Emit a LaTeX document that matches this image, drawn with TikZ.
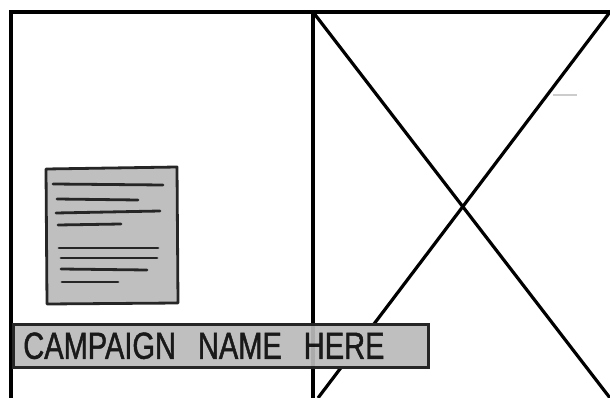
\documentclass[tikz,border=0pt]{standalone}
\usepackage{fontspec}
\newfontfamily\handfont[FakeStretch=0.77, FakeBold=1.2]{Liberation Sans}
\newcommand\widespace{\spaceskip=22pt\relax}
\usetikzlibrary{positioning}

\begin{document}
\begin{tikzpicture}[
	x=1pt, y=-1pt,
	frame/.style={line width=3.6pt, black},
	cross/.style={line width=3.2pt, black},
	card/.style={draw=black!85, line width=2.8pt, fill=black!25, line join=round},
	txtline/.style={line width=2.8pt, line cap=round, black!85},
	banner/.style={rectangle, draw=black!85, line width=2.6pt, fill=black!25, text=black!90, text width=395pt, inner xsep=10pt, inner ysep=0pt, minimum height=43pt, align=left, font=\handfont\fontsize{37.7}{38}\selectfont},
]
\useasboundingbox (0,0) rectangle (610,398);
% frame and divider
\coordinate (tl) at (11,12);
\coordinate (bl) at (11,398);
\coordinate (tr) at (610,12);
\coordinate (mt) at (313,12);
\coordinate (mb) at (313,398);
\coordinate (xb) at (318,398);
\coordinate (br) at (610,398);
\draw[frame] (bl) -- (tl) -- (tr);
\draw[frame] (mt) -- (mb);
% image placeholder
\draw[cross] (mt) -- (br);
\draw[cross] (tr) -- (xb);
\draw[black!20, line width=1.5pt] (553,95) -- (577,95);
% text block
\draw[card] (46,169) -- (177,167) -- (178,303) -- (47,304) -- cycle;
\draw[txtline] (53,184) -- (163,185);
\draw[txtline] (57,199) -- (138,200);
\draw[txtline] (56,213) -- (160,211);
\draw[txtline] (58,225) -- (121,224);
\draw[txtline] (59,248) -- (158,248);
\draw[txtline] (61,258) -- (157,258);
\draw[txtline] (61,269) -- (147,270);
\draw[txtline] (62,282) -- (118,282);
% campaign banner
\node[banner, anchor=north west] (name) at (12,323) {\widespace CAMPAIGN NAME HERE};
\draw[frame, opacity=0.1] (name.north -| mt) -- (name.south -| mt);
\end{tikzpicture}
\end{document}
